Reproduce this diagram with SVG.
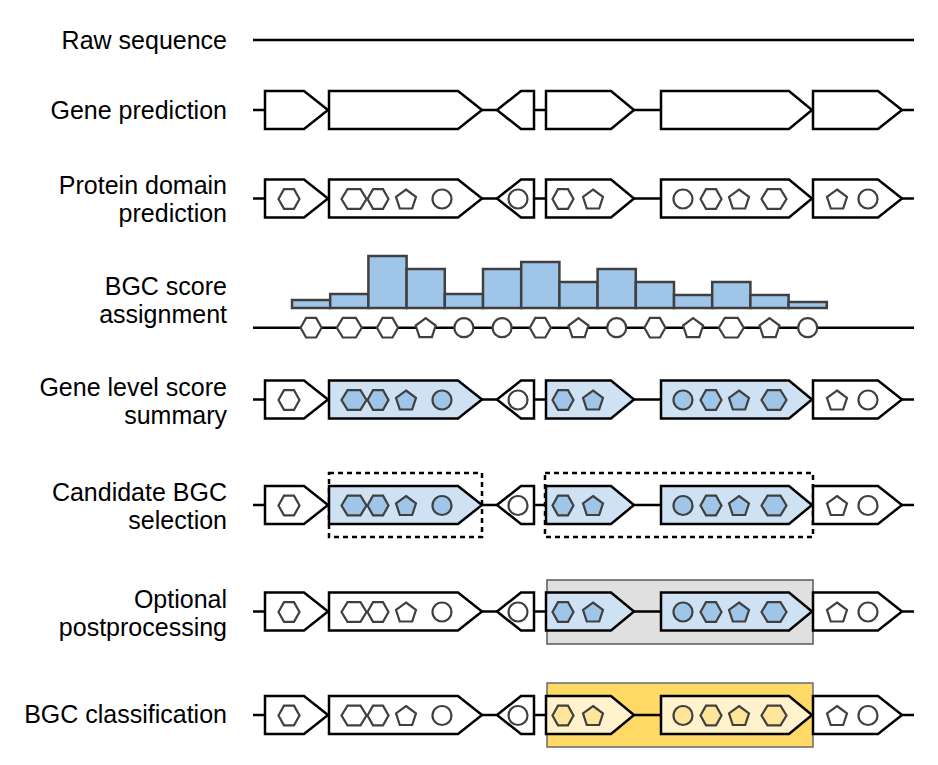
<svg xmlns="http://www.w3.org/2000/svg" xmlns:xlink="http://www.w3.org/1999/xlink" width="938" height="765" viewBox="0 0 938 765">
<style>
.lbl{font-family:"Liberation Sans",Arial,sans-serif;font-size:25px;fill:#000;text-anchor:end}
.gene{fill:#fff;stroke:#000;stroke-width:2.5;stroke-linejoin:miter}
.gb{fill:#cfe2f3}
.gy{fill:#fff2cc}
.ln{stroke:#000;stroke-width:2.5;fill:none}
.dm{fill:#fff;stroke:#404040;stroke-width:2.2}
.db{fill:#9fc5e8}
.dy{fill:#ffe599}
.bar{fill:#9fc5e8;stroke:#404040;stroke-width:2.5}
.dash{fill:none;stroke:#000;stroke-width:2.5;stroke-dasharray:5,4}
</style>
<defs>
<path id="hex" d="M-10.5,0 L-5,-9.8 H5 L10.5,0 L5,9.8 H-5 Z"/>
<path id="whex" d="M-12.5,0 L-6.5,-9.8 H6.5 L12.5,0 L6.5,9.8 H-6.5 Z"/>
<path id="pent" d="M0,-9.5 L10,-2.2 L6.2,9.5 H-6.2 L-10,-2.2 Z"/>
<circle id="circ" cx="0" cy="0" r="9.5"/>
</defs>
<rect width="938" height="765" fill="#fff"/>

<g id="labels">
<text class="lbl" x="227" y="49">Raw sequence</text>
<text class="lbl" x="227" y="119">Gene prediction</text>
<text class="lbl" x="227" y="194">Protein domain</text>
<text class="lbl" x="227" y="222">prediction</text>
<text class="lbl" x="227" y="295">BGC score</text>
<text class="lbl" x="227" y="323">assignment</text>
<text class="lbl" x="227" y="395.5">Gene level score</text>
<text class="lbl" x="227" y="423.5">summary</text>
<text class="lbl" x="227" y="501">Candidate BGC</text>
<text class="lbl" x="227" y="529">selection</text>
<text class="lbl" x="227" y="607.5">Optional</text>
<text class="lbl" x="227" y="635.5">postprocessing</text>
<text class="lbl" x="227" y="723">BGC classification</text>
</g>

<g id="highlight-boxes">
<rect id="candidate-box-1" class="dash" x="329" y="473" width="153" height="64"/>
<rect id="candidate-box-2" class="dash" x="545" y="473" width="268" height="64"/>
<rect id="postprocess-box" x="547" y="580" width="266" height="64" fill="#e0e0e0" stroke="#5a5a5a" stroke-width="1.5"/>
<rect id="class-box" x="547" y="683" width="266" height="64" fill="#ffd966" stroke="#6a6a6a" stroke-width="1.5"/>
</g>

<g id="connectors">
<line class="ln" x1="253" y1="40" x2="914" y2="40"/>
<g id="conn-gene" transform="translate(0,110)"><path class="ln" d="M253,0H265M482,0H497M534,0H546M634,0H661M902,0H914"/></g>
<g id="conn-domain" transform="translate(0,198.5)"><path class="ln" d="M253,0H265M482,0H497M534,0H546M634,0H661M902,0H914"/></g>
<line class="ln" x1="253" y1="327.7" x2="914" y2="327.7"/>
<g id="conn-level" transform="translate(0,399.5)"><path class="ln" d="M253,0H265M482,0H497M534,0H546M634,0H661M902,0H914"/></g>
<g id="conn-cand" transform="translate(0,505)"><path class="ln" d="M253,0H265M482,0H497M534,0H546M634,0H661M902,0H914"/></g>
<g id="conn-post" transform="translate(0,611.5)"><path class="ln" d="M253,0H265M482,0H497M534,0H546M634,0H661M902,0H914"/></g>
<g id="conn-class" transform="translate(0,715)"><path class="ln" d="M253,0H265M482,0H497M534,0H546M634,0H661M902,0H914"/></g>
</g>

<!-- Row: Gene prediction -->
<g id="row-gene" transform="translate(0,110)">
<g id="gp-g1"><path class="gene" d="M265,-19H304L328,0L304,19H265Z"/></g>
<g id="gp-g2"><path class="gene" d="M329,-19H458L482,0L458,19H329Z"/></g>
<g id="gp-g3"><path class="gene" d="M497,0L521,-19H534V19H521Z"/></g>
<g id="gp-g4"><path class="gene" d="M546,-19H611L634,0L611,19H546Z"/></g>
<g id="gp-g5"><path class="gene" d="M661,-19H789L812,0L789,19H661Z"/></g>
<g id="gp-g6"><path class="gene" d="M813,-19H878L902,0L878,19H813Z"/></g>
</g>

<!-- Row: Protein domain prediction -->
<g id="row-domain" transform="translate(0,198.5)">
<g id="pd-g1"><path class="gene" d="M265,-19H304L328,0L304,19H265Z"/><use href="#hex" class="dm" x="289" y="0.5"/></g>
<g id="pd-g2"><path class="gene" d="M329,-19H458L482,0L458,19H329Z"/><use href="#whex" class="dm" x="354" y="0.5"/><use href="#hex" class="dm" x="378" y="0.5"/><use href="#pent" class="dm" x="406" y="0.5"/><use href="#circ" class="dm" x="442" y="0.5"/></g>
<g id="pd-g3"><path class="gene" d="M497,0L521,-19H534V19H521Z"/><use href="#circ" class="dm" x="518" y="0.5"/></g>
<g id="pd-g4"><path class="gene" d="M546,-19H611L634,0L611,19H546Z"/><use href="#hex" class="dm" x="563" y="0.5"/><use href="#pent" class="dm" x="593" y="0.5"/></g>
<g id="pd-g5"><path class="gene" d="M661,-19H789L812,0L789,19H661Z"/><use href="#circ" class="dm" x="683" y="0.5"/><use href="#hex" class="dm" x="711" y="0.5"/><use href="#pent" class="dm" x="739" y="0.5"/><use href="#whex" class="dm" x="774" y="0.5"/></g>
<g id="pd-g6"><path class="gene" d="M813,-19H878L902,0L878,19H813Z"/><use href="#pent" class="dm" x="837" y="0.5"/><use href="#circ" class="dm" x="868" y="0.5"/></g>
</g>

<!-- Row: BGC score assignment -->
<g id="row-score">
<g id="score-bars">
<rect class="bar" x="292" y="300" width="38.2" height="8"/>
<rect class="bar" x="330.2" y="294" width="38.2" height="14"/>
<rect class="bar" x="368.4" y="256" width="38.2" height="52"/>
<rect class="bar" x="406.6" y="269" width="38.2" height="39"/>
<rect class="bar" x="444.8" y="294" width="38.2" height="14"/>
<rect class="bar" x="483" y="269" width="38.2" height="39"/>
<rect class="bar" x="521.2" y="262" width="38.2" height="46"/>
<rect class="bar" x="559.4" y="282" width="38.2" height="26"/>
<rect class="bar" x="597.6" y="269" width="38.2" height="39"/>
<rect class="bar" x="635.8" y="282" width="38.2" height="26"/>
<rect class="bar" x="674" y="295" width="38.2" height="13"/>
<rect class="bar" x="712.2" y="282" width="38.2" height="26"/>
<rect class="bar" x="750.4" y="295" width="38.2" height="13"/>
<rect class="bar" x="788.6" y="302" width="38.2" height="6"/>
</g>
<g id="score-domains">
<use href="#hex" class="dm" x="311.1" y="327.7"/>
<use href="#whex" class="dm" x="349.3" y="327.7"/>
<use href="#hex" class="dm" x="387.5" y="327.7"/>
<use href="#pent" class="dm" x="425.7" y="327.7"/>
<use href="#circ" class="dm" x="463.9" y="327.7"/>
<use href="#circ" class="dm" x="502.1" y="327.7"/>
<use href="#hex" class="dm" x="540.3" y="327.7"/>
<use href="#pent" class="dm" x="578.5" y="327.7"/>
<use href="#circ" class="dm" x="616.7" y="327.7"/>
<use href="#hex" class="dm" x="654.9" y="327.7"/>
<use href="#pent" class="dm" x="693.1" y="327.7"/>
<use href="#whex" class="dm" x="731.3" y="327.7"/>
<use href="#pent" class="dm" x="769.5" y="327.7"/>
<use href="#circ" class="dm" x="807.7" y="327.7"/>
</g>
</g>

<!-- Row: Gene level score summary -->
<g id="row-level" transform="translate(0,399.5)">
<g id="gl-g1"><path class="gene" d="M265,-19H304L328,0L304,19H265Z"/><use href="#hex" class="dm" x="289" y="0.5"/></g>
<g id="gl-g2"><path class="gene gb" d="M329,-19H458L482,0L458,19H329Z"/><use href="#whex" class="dm db" x="354" y="0.5"/><use href="#hex" class="dm db" x="378" y="0.5"/><use href="#pent" class="dm db" x="406" y="0.5"/><use href="#circ" class="dm db" x="442" y="0.5"/></g>
<g id="gl-g3"><path class="gene" d="M497,0L521,-19H534V19H521Z"/><use href="#circ" class="dm" x="518" y="0.5"/></g>
<g id="gl-g4"><path class="gene gb" d="M546,-19H611L634,0L611,19H546Z"/><use href="#hex" class="dm db" x="563" y="0.5"/><use href="#pent" class="dm db" x="593" y="0.5"/></g>
<g id="gl-g5"><path class="gene gb" d="M661,-19H789L812,0L789,19H661Z"/><use href="#circ" class="dm db" x="683" y="0.5"/><use href="#hex" class="dm db" x="711" y="0.5"/><use href="#pent" class="dm db" x="739" y="0.5"/><use href="#whex" class="dm db" x="774" y="0.5"/></g>
<g id="gl-g6"><path class="gene" d="M813,-19H878L902,0L878,19H813Z"/><use href="#pent" class="dm" x="837" y="0.5"/><use href="#circ" class="dm" x="868" y="0.5"/></g>
</g>

<!-- Row: Candidate BGC selection -->
<g id="row-cand" transform="translate(0,505)">
<g id="cs-g1"><path class="gene" d="M265,-19H304L328,0L304,19H265Z"/><use href="#hex" class="dm" x="289" y="0.5"/></g>
<g id="cs-g2"><path class="gene gb" d="M329,-19H458L482,0L458,19H329Z"/><use href="#whex" class="dm db" x="354" y="0.5"/><use href="#hex" class="dm db" x="378" y="0.5"/><use href="#pent" class="dm db" x="406" y="0.5"/><use href="#circ" class="dm db" x="442" y="0.5"/></g>
<g id="cs-g3"><path class="gene" d="M497,0L521,-19H534V19H521Z"/><use href="#circ" class="dm" x="518" y="0.5"/></g>
<g id="cs-g4"><path class="gene gb" d="M546,-19H611L634,0L611,19H546Z"/><use href="#hex" class="dm db" x="563" y="0.5"/><use href="#pent" class="dm db" x="593" y="0.5"/></g>
<g id="cs-g5"><path class="gene gb" d="M661,-19H789L812,0L789,19H661Z"/><use href="#circ" class="dm db" x="683" y="0.5"/><use href="#hex" class="dm db" x="711" y="0.5"/><use href="#pent" class="dm db" x="739" y="0.5"/><use href="#whex" class="dm db" x="774" y="0.5"/></g>
<g id="cs-g6"><path class="gene" d="M813,-19H878L902,0L878,19H813Z"/><use href="#pent" class="dm" x="837" y="0.5"/><use href="#circ" class="dm" x="868" y="0.5"/></g>
</g>

<!-- Row: Optional postprocessing -->
<g id="row-post" transform="translate(0,611.5)">
<g id="op-g1"><path class="gene" d="M265,-19H304L328,0L304,19H265Z"/><use href="#hex" class="dm" x="289" y="0.5"/></g>
<g id="op-g2"><path class="gene" d="M329,-19H458L482,0L458,19H329Z"/><use href="#whex" class="dm" x="354" y="0.5"/><use href="#hex" class="dm" x="378" y="0.5"/><use href="#pent" class="dm" x="406" y="0.5"/><use href="#circ" class="dm" x="442" y="0.5"/></g>
<g id="op-g3"><path class="gene" d="M497,0L521,-19H534V19H521Z"/><use href="#circ" class="dm" x="518" y="0.5"/></g>
<g id="op-g4"><path class="gene gb" d="M546,-19H611L634,0L611,19H546Z"/><use href="#hex" class="dm db" x="563" y="0.5"/><use href="#pent" class="dm db" x="593" y="0.5"/></g>
<g id="op-g5"><path class="gene gb" d="M661,-19H789L812,0L789,19H661Z"/><use href="#circ" class="dm db" x="683" y="0.5"/><use href="#hex" class="dm db" x="711" y="0.5"/><use href="#pent" class="dm db" x="739" y="0.5"/><use href="#whex" class="dm db" x="774" y="0.5"/></g>
<g id="op-g6"><path class="gene" d="M813,-19H878L902,0L878,19H813Z"/><use href="#pent" class="dm" x="837" y="0.5"/><use href="#circ" class="dm" x="868" y="0.5"/></g>
</g>

<!-- Row: BGC classification -->
<g id="row-class" transform="translate(0,715)">
<g id="bc-g1"><path class="gene" d="M265,-19H304L328,0L304,19H265Z"/><use href="#hex" class="dm" x="289" y="0.5"/></g>
<g id="bc-g2"><path class="gene" d="M329,-19H458L482,0L458,19H329Z"/><use href="#whex" class="dm" x="354" y="0.5"/><use href="#hex" class="dm" x="378" y="0.5"/><use href="#pent" class="dm" x="406" y="0.5"/><use href="#circ" class="dm" x="442" y="0.5"/></g>
<g id="bc-g3"><path class="gene" d="M497,0L521,-19H534V19H521Z"/><use href="#circ" class="dm" x="518" y="0.5"/></g>
<g id="bc-g4"><path class="gene gy" d="M546,-19H611L634,0L611,19H546Z"/><use href="#hex" class="dm dy" x="563" y="0.5"/><use href="#pent" class="dm dy" x="593" y="0.5"/></g>
<g id="bc-g5"><path class="gene gy" d="M661,-19H789L812,0L789,19H661Z"/><use href="#circ" class="dm dy" x="683" y="0.5"/><use href="#hex" class="dm dy" x="711" y="0.5"/><use href="#pent" class="dm dy" x="739" y="0.5"/><use href="#whex" class="dm dy" x="774" y="0.5"/></g>
<g id="bc-g6"><path class="gene" d="M813,-19H878L902,0L878,19H813Z"/><use href="#pent" class="dm" x="837" y="0.5"/><use href="#circ" class="dm" x="868" y="0.5"/></g>
</g>
</svg>
